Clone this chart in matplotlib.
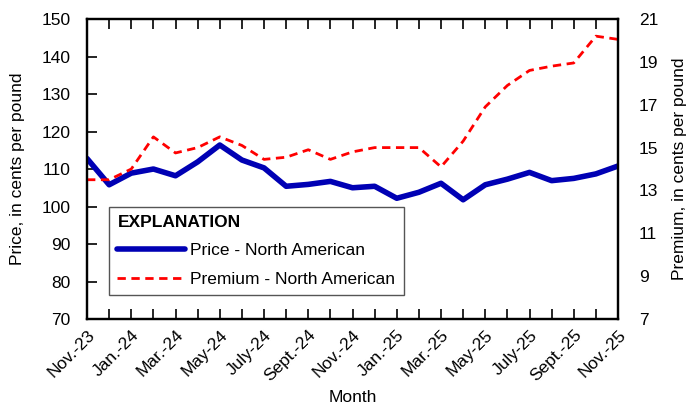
import matplotlib.pyplot as plt
from matplotlib.ticker import MultipleLocator

plt.rcParams["font.family"] = ["Liberation Sans Narrow", "Liberation Sans", "DejaVu Sans"]

# monthly, Nov. 2023 to Nov. 2025
tick_labels = ["Nov.-23", "Jan.-24", "Mar.-24", "May-24", "July-24", "Sept.-24", "Nov.-24",
               "Jan.-25", "Mar.-25", "May-25", "July-25", "Sept.-25", "Nov.-25"]
price = [112.8, 105.8, 108.9, 110.0, 108.2, 111.9, 116.4, 112.4, 110.3, 105.4, 105.9, 106.7,
         105.0, 105.4, 102.2, 103.8, 106.2, 101.8, 105.8, 107.3, 109.1, 106.9, 107.5, 108.7, 110.8]
premium = [13.5, 13.5, 14.0, 15.5, 14.75, 15.0, 15.5, 15.1, 14.45, 14.55, 14.9, 14.45,
           14.8, 15.0, 15.0, 15.0, 14.1, 15.3, 16.9, 17.9, 18.6, 18.8, 18.95, 20.2, 20.05]
premium_ticks = [7, 9, 11, 13, 15, 17, 19, 21]

months = list(range(len(price)))
fs = 12.5

fig = plt.figure(figsize=(6.94, 4.09), dpi=100)
ax = fig.add_axes([0.1254, 0.22, 0.7651, 0.7335])
ax2 = ax.twinx()

l1, = ax.plot(months, price, color="#0000b4", lw=4, solid_capstyle="round",
              label="Price - North American")
l2, = ax2.plot(months, premium, color="#ff0000", lw=2, ls=(0, (3, 2)),
               label="Premium - North American")

ax.set_xlim(0, len(months) - 1)
ax.set_ylim(70, 150)
ax2.set_ylim(7, 21)
ax.yaxis.set_major_locator(MultipleLocator(10))
ax2.set_yticks(premium_ticks)

ax.set_xticks(months[::2])
ax.set_xticklabels(tick_labels, rotation=45, ha="right", rotation_mode="anchor")
ax.set_xticks(months, minor=True)
ax.tick_params(axis="x", which="both", direction="in", top=True, length=7, width=1.2,
               labelsize=fs, pad=6)
ax.tick_params(axis="y", direction="in", length=7, width=1.2, labelsize=fs, right=False, pad=12)
ax2.tick_params(axis="y", length=0, labelsize=fs, pad=15)

for a in (ax, ax2):
    for s in a.spines.values():
        s.set_linewidth(1.6)

ax.set_xlabel("Month", fontsize=fs)
ax.set_ylabel("Price, in cents per pound", fontsize=fs, labelpad=12)
ax2.set_ylabel("Premium, in cents per pound", fontsize=fs, labelpad=10)

leg = ax.legend(handles=[l1, l2], title="EXPLANATION", loc="lower left",
                bbox_to_anchor=(0.0245, 0.05), fontsize=fs, handlelength=3.9,
                fancybox=False, edgecolor="#555555", framealpha=1,
                borderpad=0.5, labelspacing=0.75, handletextpad=0.3)
leg.get_title().set_fontweight("bold")
leg.get_title().set_fontsize(fs)
leg._legend_box.align = "left"
leg.get_frame().set_linewidth(1)

fig.savefig("out.png", dpi=100)
